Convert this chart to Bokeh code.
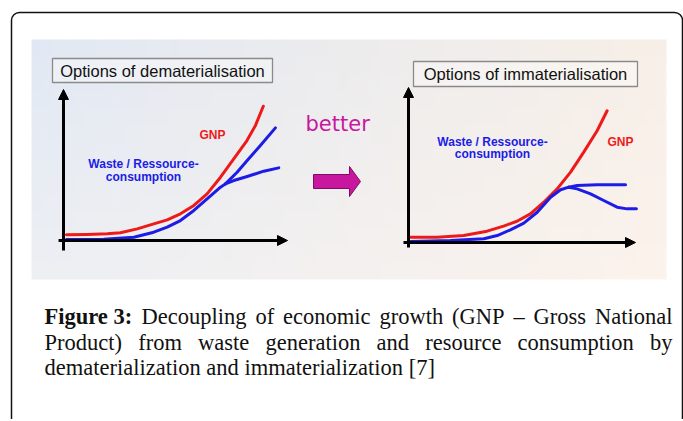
import numpy as np
from bokeh.plotting import figure
from bokeh.models import Range1d, Arrow, NormalHead, BoxAnnotation
from bokeh.core.properties import value
from bokeh.embed import file_html
from bokeh.resources import INLINE

# ---------------- data: schematic curves, axis units 0..10 ----------------
# Left panel: "Options of dematerialisation"
dem_gnp_x = [0.13, 1.05, 1.95, 2.54, 3.29, 4.03, 4.63, 5.22, 5.82, 6.41, 7.01, 7.60, 8.19, 8.57, 8.92]
dem_gnp_y = [0.38, 0.40, 0.44, 0.51, 0.77, 1.10, 1.37, 1.77, 2.32, 3.09, 4.19, 5.41, 6.62, 7.62, 8.89]
dem_waste_x = [0.13, 1.80, 3.14, 4.03, 4.63, 5.22, 5.82, 6.41, 7.01, 7.23]
dem_waste_y = [0.07, 0.09, 0.22, 0.55, 0.88, 1.32, 1.99, 2.76, 3.53, 3.75]
dem_high_x = [7.23, 7.75, 8.20, 8.79, 9.46]
dem_high_y = [3.75, 4.52, 5.30, 6.29, 7.46]
dem_low_x = [7.23, 7.60, 8.20, 8.94, 9.61]
dem_low_y = [3.75, 3.97, 4.24, 4.59, 4.81]

# Right panel: "Options of immaterialisation"
imm_gnp_x = [0.09, 1.26, 2.43, 3.46, 4.19, 4.78, 5.37, 5.96, 6.55, 7.14, 7.72, 8.31, 8.75]
imm_gnp_y = [0.34, 0.34, 0.45, 0.73, 1.06, 1.37, 1.85, 2.60, 3.46, 4.54, 5.83, 7.21, 8.50]
imm_waste_x = [0.09, 1.85, 3.32, 3.91, 4.49, 5.08, 5.67, 6.26, 6.70, 7.06]
imm_waste_y = [0.06, 0.13, 0.24, 0.45, 0.82, 1.25, 1.95, 2.92, 3.40, 3.57]
imm_flat_x = [7.06, 7.43, 8.31, 9.56]
imm_flat_y = [3.57, 3.68, 3.72, 3.72]
imm_fall_x = [7.06, 7.43, 8.02, 8.60, 9.19, 9.63, 10.04]
imm_fall_y = [3.57, 3.46, 3.14, 2.71, 2.28, 2.17, 2.17]

panel_titles = ["Options of dematerialisation", "Options of immaterialisation"]
gnp_label = "GNP"
waste_label = ["Waste / Ressource-", "consumption"]
middle_word = "better"
caption_line1 = ["Figure 3:", "Decoupling", "of", "economic", "growth", "(GNP", "\u2013", "Gross", "National"]
caption_line2 = ["Product)", "from", "waste", "generation", "and", "resource", "consumption", "by"]
caption_line3 = "dematerialization and immaterialization [7]"

RED = "#ee1a1a"
BLUE = "#1c1ce6"
MAGENTA = "#c8169e"

# ---------------- figure in page-pixel coordinates ----------------
W, H = 683, 419
p = figure(width=W, height=H, x_range=Range1d(0, W), y_range=Range1d(H, 0),
           output_backend="svg", toolbar_location=None, min_border=0,
           x_axis_location=None, y_axis_location=None, title=None,
           background_fill_color="white", border_fill_color="white")
p.outline_line_color = None
p.xgrid.visible = False
p.ygrid.visible = False

# background gradient of the embedded picture
gx0, gx1, gy0, gy1 = 31, 666, 39, 279
nx, ny = 60, 14
TL = np.array([225, 232, 243]); TR = np.array([247, 239, 231])
BL = np.array([237, 239, 243]); BR = np.array([251, 242, 235])
xs = np.linspace(gx0, gx1, nx + 1); ys = np.linspace(gy0, gy1, ny + 1)
L, R, T, B, C = [], [], [], [], []
for i in range(nx):
    for j in range(ny):
        u = (i + 0.5) / nx; v = (j + 0.5) / ny
        c = (1 - u) * (1 - v) * TL + u * (1 - v) * TR + (1 - u) * v * BL + u * v * BR
        L.append(xs[i]); R.append(min(xs[i + 1] + 0.7, gx1))
        T.append(ys[j]); B.append(min(ys[j + 1] + 0.7, gy1))
        C.append("#%02x%02x%02x" % tuple(int(round(k)) for k in c))
p.quad(left=L, right=R, top=T, bottom=B, fill_color=C, line_color=None)

# outer frame
p.add_layout(BoxAnnotation(left=11, right=682, top=12, bottom=470, fill_alpha=0,
                           line_color="#111111", line_alpha=1.0, line_width=1.5, border_radius=8))

# ---------------- panel coordinate systems ----------------
def panel_ranges(name, ox, oy, lx, ly):
    sx, sy = lx / 10.0, ly / 10.0
    p.extra_x_ranges[name] = Range1d((0 - ox) / sx, (W - ox) / sx)
    p.extra_y_ranges[name] = Range1d((oy - H) / sy, (oy - 0) / sy)

panel_ranges("dem", 63, 240, 224, 151)
panel_ranges("imm", 408, 242, 227, 155)

def axes(name, ybot):
    for xs_, ys_, xe, ye in [(0, ybot, 0, 10), (-0.22, 0, 10, 0)]:
        p.add_layout(Arrow(end=NormalHead(size=10, fill_color="black", line_color="black", line_width=1),
                           x_start=xs_, y_start=ys_, x_end=xe, y_end=ye, line_width=3,
                           line_color="black", x_range_name=name, y_range_name=name))

axes("dem", -0.66)
axes("imm", -0.32)

kw = dict(line_width=3, line_join="round", line_cap="round")
p.line(dem_gnp_x, dem_gnp_y, line_color=RED, x_range_name="dem", y_range_name="dem", **kw)
for xx, yy in [(dem_waste_x, dem_waste_y), (dem_high_x, dem_high_y), (dem_low_x, dem_low_y)]:
    p.line(xx, yy, line_color=BLUE, x_range_name="dem", y_range_name="dem", **kw)
p.line(imm_gnp_x, imm_gnp_y, line_color=RED, x_range_name="imm", y_range_name="imm", **kw)
for xx, yy in [(imm_waste_x, imm_waste_y), (imm_flat_x, imm_flat_y), (imm_fall_x, imm_fall_y)]:
    p.line(xx, yy, line_color=BLUE, x_range_name="imm", y_range_name="imm", **kw)

# panel title boxes
p.quad(left=[52, 413], right=[272, 637], top=[58, 61], bottom=[82, 86],
       fill_color="white", fill_alpha=0.35, line_color="#8a8a8a", line_width=1.3)
p.text(x=[162, 525], y=[70.5, 73.5], text=panel_titles, text_align="center",
       text_baseline="middle", text_font=value("Liberation Sans"),
       text_font_size="16.5px", text_color="#111111")

lab = dict(text_align="center", text_baseline="middle", text_font=value("Liberation Sans"),
           text_font_style="bold", text_font_size="12px")
p.text(x=[212, 620], y=[134, 141], text=[gnp_label, gnp_label], text_color=RED, **lab)
p.text(x=[143, 143, 492, 492], y=[163, 176, 141, 153],
       text=[waste_label[0], waste_label[1], waste_label[0], waste_label[1]], text_color=BLUE, **lab)

# middle "better" arrow
p.text(x=[305], y=[123], text=[middle_word], text_font=value("DejaVu Sans"),
       text_font_size="21px", text_color=MAGENTA, text_baseline="middle")
p.patch(x=[313, 349, 349, 360, 349, 349, 313], y=[174, 174, 166, 181, 196, 188, 188],
        fill_color=MAGENTA, line_color="#7d0d62", line_width=1)

# ---------------- caption (justified, Times metrics) ----------------
TW = {' ': 250, '(': 333, ')': 333, '[': 333, ']': 333, '\u2013': 500, ':': 278, '3': 500, '7': 500,
      'D': 722, 'F': 556, 'G': 722, 'N': 722, 'P': 556,
      'a': 444, 'b': 500, 'c': 444, 'd': 500, 'e': 444, 'f': 333, 'g': 500, 'h': 500, 'i': 278,
      'l': 278, 'm': 778, 'n': 500, 'o': 500, 'p': 500, 'r': 333, 's': 389, 't': 278, 'u': 500,
      'w': 722, 'y': 500, 'z': 444}
TWB = {'F': 611, 'i': 278, 'g': 500, 'u': 556, 'r': 444, 'e': 444, ' ': 250, '3': 500, ':': 333}
FS = 22.5
def tw(s, bold=False):
    tab = TWB if bold else TW
    return sum(tab.get(ch, 500) for ch in s) * FS / 1000.0

cx0, cx1 = 44, 672
def justify(words, bold_first=False):
    ws = [tw(w, bold_first and k == 0) for k, w in enumerate(words)]
    gap = (cx1 - cx0 - sum(ws)) / (len(words) - 1)
    pos, x = [], cx0
    for w_ in ws:
        pos.append(x); x += w_ + gap
    return pos

cap = dict(text_font=value("Liberation Serif"), text_font_size="%gpx" % FS,
           text_baseline="middle", text_align="left", text_color="#111111")
pos1 = justify(caption_line1, bold_first=True)
p.text(x=pos1[:1], y=[316], text=caption_line1[:1], text_font_style="bold", **cap)
p.text(x=pos1[1:], y=[316] * (len(pos1) - 1), text=caption_line1[1:], **cap)
pos2 = justify(caption_line2)
p.text(x=pos2, y=[341.5] * len(pos2), text=caption_line2, **cap)
p.text(x=[cx0], y=[367], text=[caption_line3], **cap)

open("out.html", "w").write(file_html(p, INLINE))
